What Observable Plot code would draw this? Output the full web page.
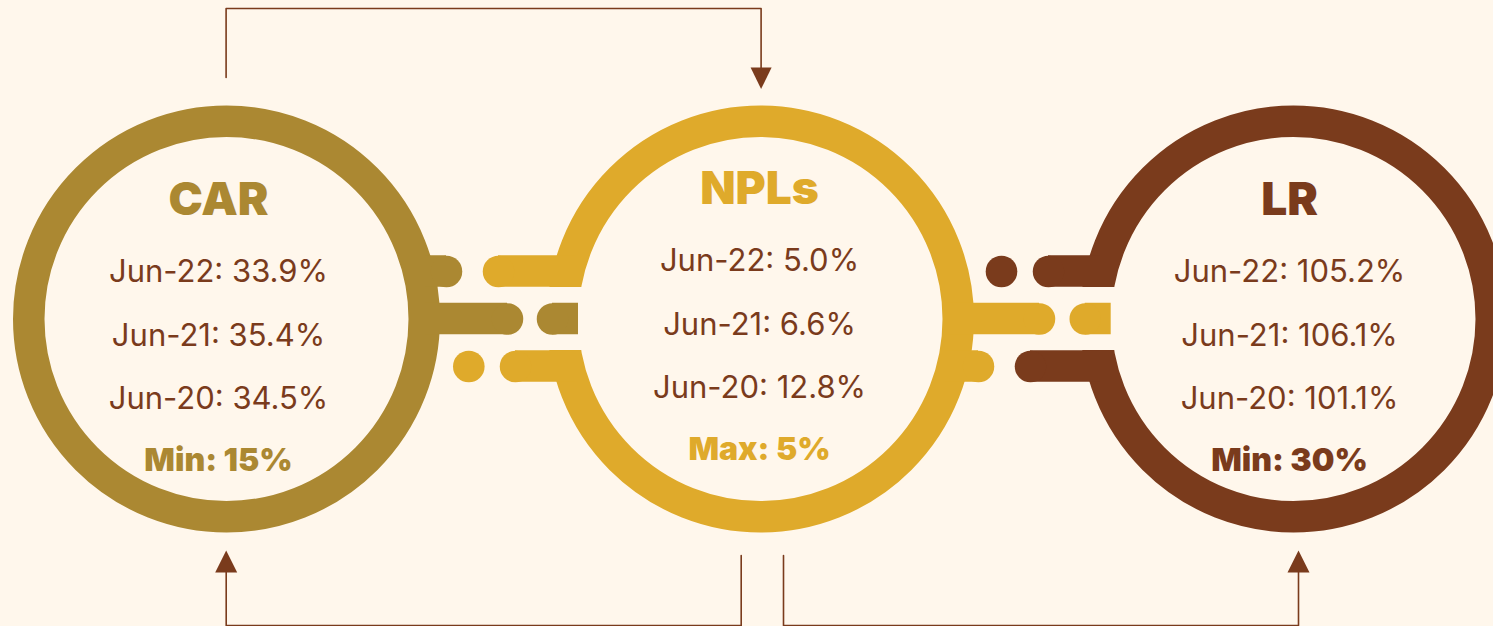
<!DOCTYPE html>
<html>
<head>
<meta charset="utf-8">
<script src="https://cdn.jsdelivr.net/npm/d3@7"></script>
<script src="https://cdn.jsdelivr.net/npm/@observablehq/plot@0.6"></script>
<style>
  html, body { margin: 0; padding: 0; background: #fff7ec; }
  #chart svg { display: block; }
</style>
</head>
<body>
<div id="chart"></div>
<script>
// ---- data ----
const metrics = ["CAR", "NPLs", "LR"];
const periods = ["Jun-22", "Jun-21", "Jun-20"];
const jun22 = [33.9, 5.0, 105.2];
const jun21 = [35.4, 6.6, 106.1];
const jun20 = [34.5, 12.8, 101.1];
const limitLabels = ["Min", "Max", "Min"];
const limitValues = [15, 5, 30];
const colors = ["#ab8832", "#dfaa2b", "#7a3b1c"];
const textColor = "#7a3b1c";
const bg = "#fff7ec";

// ---- layout (layout units, mapped through the x/y scales) ----
const ringX = [226, 760, 1293];
const ringY = 318.5;
const textX = [218, 759, 1289];
const textShift = [0, -11, 0];
const titleBase = 214;
const rowBase = [281, 345, 408];
const limitBase = 470;
const barHalf = 15.75;

// bars: x1 (ring side), x2 (rounded end centre), y row, colour index
const barX1 = [425, 425, 575, 575, 945, 945, 1100, 1100];
const barX2 = [446, 507, 498, 515, 1039, 978, 1048, 1030];
const barY  = [271, 318.5, 271, 366, 318.5, 366, 271, 366];
const barC  = [0, 0, 1, 1, 1, 1, 2, 2];
// loose dots
const dotX = [468.3, 1001];
const dotY = [366, 271];
const dotC = [1, 2];
// D-shaped capsules (rounded left, flat right)
const capX1 = [552, 1084.75];
const capX2 = [578, 1110.7];
const capC  = [0, 1];
// ring gaps
const gapX1 = [525, 1062];
const gapX2 = [584, 1120];
const gapY1 = 287, gapY2 = 350;

// flow arrows
const arrowPaths = [
  [[225.6, 77], [225.6, 8], [760.6, 8], [760.6, 68]],
  [[740.7, 555], [740.7, 625], [225.7, 625], [225.7, 571]],
  [[783, 555], [783, 625], [1298, 625], [1298, 571]]
];
const arrowHeads = [
  [[750.1, 67], [771.1, 67], [760.6, 88.5]],
  [[214.7, 572], [236.7, 572], [225.7, 550]],
  [[1287, 572], [1309, 572], [1298, 550]]
];

// ---- build tables ----
const rings = metrics.map((m, i) => ({m, x: ringX[i], y: ringY, c: colors[i]}));
const bars = barX1.map((x1, i) => ({x1: Math.min(x1, barX2[i]), x2: Math.max(x1, barX2[i]), y1: barY[i] - barHalf, y2: barY[i] + barHalf, c: colors[barC[i]]}));
const barEnds = barX2.map((x, i) => ({x, y: barY[i], c: colors[barC[i]]}));
const dots = dotX.map((x, i) => ({x, y: dotY[i], c: colors[dotC[i]]}));
const caps = capX1.map((x1, i) => ({x1, x2: capX2[i], y1: ringY - barHalf, y2: ringY + barHalf, c: colors[capC[i]]}));
const capEnds = capX1.map((x, i) => ({x, y: ringY, c: colors[capC[i]]}));
const gaps = gapX1.map((x1, i) => ({x1, x2: gapX2[i], y1: gapY1, y2: gapY2}));
const titles = metrics.map((m, i) => ({t: m, x: textX[i], y: titleBase + textShift[i], c: colors[i]}));
const valueSeries = [jun22, jun21, jun20];
const rows = [];
metrics.forEach((m, i) => {
  periods.forEach((p, j) => {
    rows.push({t: `${p}: ${valueSeries[j][i].toFixed(1)}%`, x: textX[i], y: rowBase[j] + textShift[i]});
  });
});
const limits = metrics.map((m, i) => ({t: `${limitLabels[i]}: ${limitValues[i]}%`, x: textX[i], y: limitBase + textShift[i], c: colors[i]}));
const lines = arrowPaths.flatMap((pts, k) => pts.map(([x, y]) => ({k, x, y})));
const heads = arrowHeads.flatMap((pts, k) => pts.concat([pts[0]]).map(([x, y]) => ({k, x, y})));

const font = "Inter, 'Libre Franklin', 'Noto Sans', sans-serif";

const chart = Plot.plot({
  width: 1493,
  height: 626,
  margin: 0,
  x: {domain: [0, 1493], range: [0, 1493], axis: null},
  y: {domain: [0, 626], range: [0, 626], axis: null},
  style: {background: bg, fontFamily: font},
  marks: [
    Plot.dot(rings, {x: "x", y: "y", r: 197.75, stroke: d => d.c, strokeWidth: 31.5, fill: "none"}),
    Plot.rect(gaps, {x1: "x1", x2: "x2", y1: "y1", y2: "y2", fill: bg}),
    Plot.rect(bars, {x1: "x1", x2: "x2", y1: "y1", y2: "y2", fill: d => d.c}),
    Plot.dot(barEnds, {x: "x", y: "y", r: barHalf, fill: d => d.c}),
    Plot.rect(caps, {x1: "x1", x2: "x2", y1: "y1", y2: "y2", fill: d => d.c}),
    Plot.dot(capEnds, {x: "x", y: "y", r: barHalf, fill: d => d.c}),
    Plot.dot(dots, {x: "x", y: "y", r: 15.8, fill: d => d.c}),
    Plot.text(titles, {x: "x", y: "y", text: "t", fill: d => d.c, fontSize: 46, fontWeight: 900, lineAnchor: "bottom", textAnchor: "middle"}),
    Plot.text(rows, {x: "x", y: "y", text: "t", fill: textColor, fontSize: 31, fontWeight: 400, lineAnchor: "bottom", textAnchor: "middle"}),
    Plot.text(limits, {x: "x", y: "y", text: "t", fill: d => d.c, fontSize: 32, fontWeight: 900, lineAnchor: "bottom", textAnchor: "middle"}),
    Plot.line(lines, {x: "x", y: "y", z: "k", stroke: textColor, strokeWidth: 1.6, curve: "linear"}),
    Plot.line(heads, {x: "x", y: "y", z: "k", fill: textColor, stroke: "none", curve: "linear"})
  ]
});
document.getElementById("chart").appendChild(chart);
</script>
</body>
</html>
